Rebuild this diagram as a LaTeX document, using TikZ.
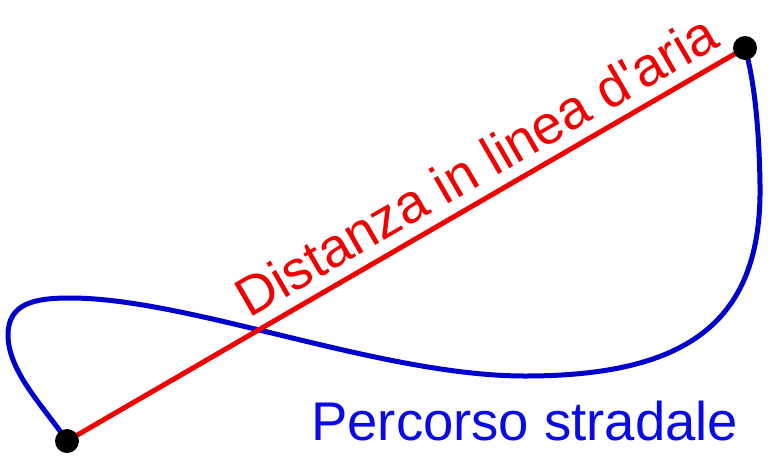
\documentclass[tikz,border=0pt]{standalone}
\usepackage{fontspec}
\setmainfont{Liberation Sans}[Ligatures=TeXOff]
\definecolor{roadblue}{RGB}{0,0,205}
\definecolor{textblue}{RGB}{10,10,230}
\definecolor{airred}{RGB}{240,0,0}
\begin{document}
\begin{tikzpicture}[x=1pt,y=-1pt,
  dot/.style={circle,fill=black,inner sep=0pt,minimum size=24pt},
  airline/.style={draw=airred,line width=5pt},
  road/.style={draw=roadblue,line width=5pt},
  lbl/.style={font=\fontsize{54.5}{60}\selectfont,inner sep=0pt}]
\useasboundingbox (0,0) rectangle (768,461);
\coordinate (Apos) at (67,441);
\coordinate (Bpos) at (745,48);
% blue road
\draw[road] (Apos) .. controls (45,408) and (8,372) .. (8,335)
  .. controls (8,303) and (35,298) .. (70,298)
  .. controls (190,298) and (380,376) .. (525,376)
  .. controls (690,376) and (762,320) .. (760,185)
  .. controls (759,115) and (752,72) .. (Bpos);
% red line
\draw[airline] (Apos) -- (Bpos);
\node[dot] (A) at (Apos) {};
\node[dot] (B) at (Bpos) {};
\node[lbl,text=airred,rotate=30.06,anchor=base west] (air) at (249,319) {Distanza in linea d'aria};
\node[lbl,text=textblue,anchor=base west] (road) at (311,440) {Percorso stradale};
\end{tikzpicture}
\end{document}
